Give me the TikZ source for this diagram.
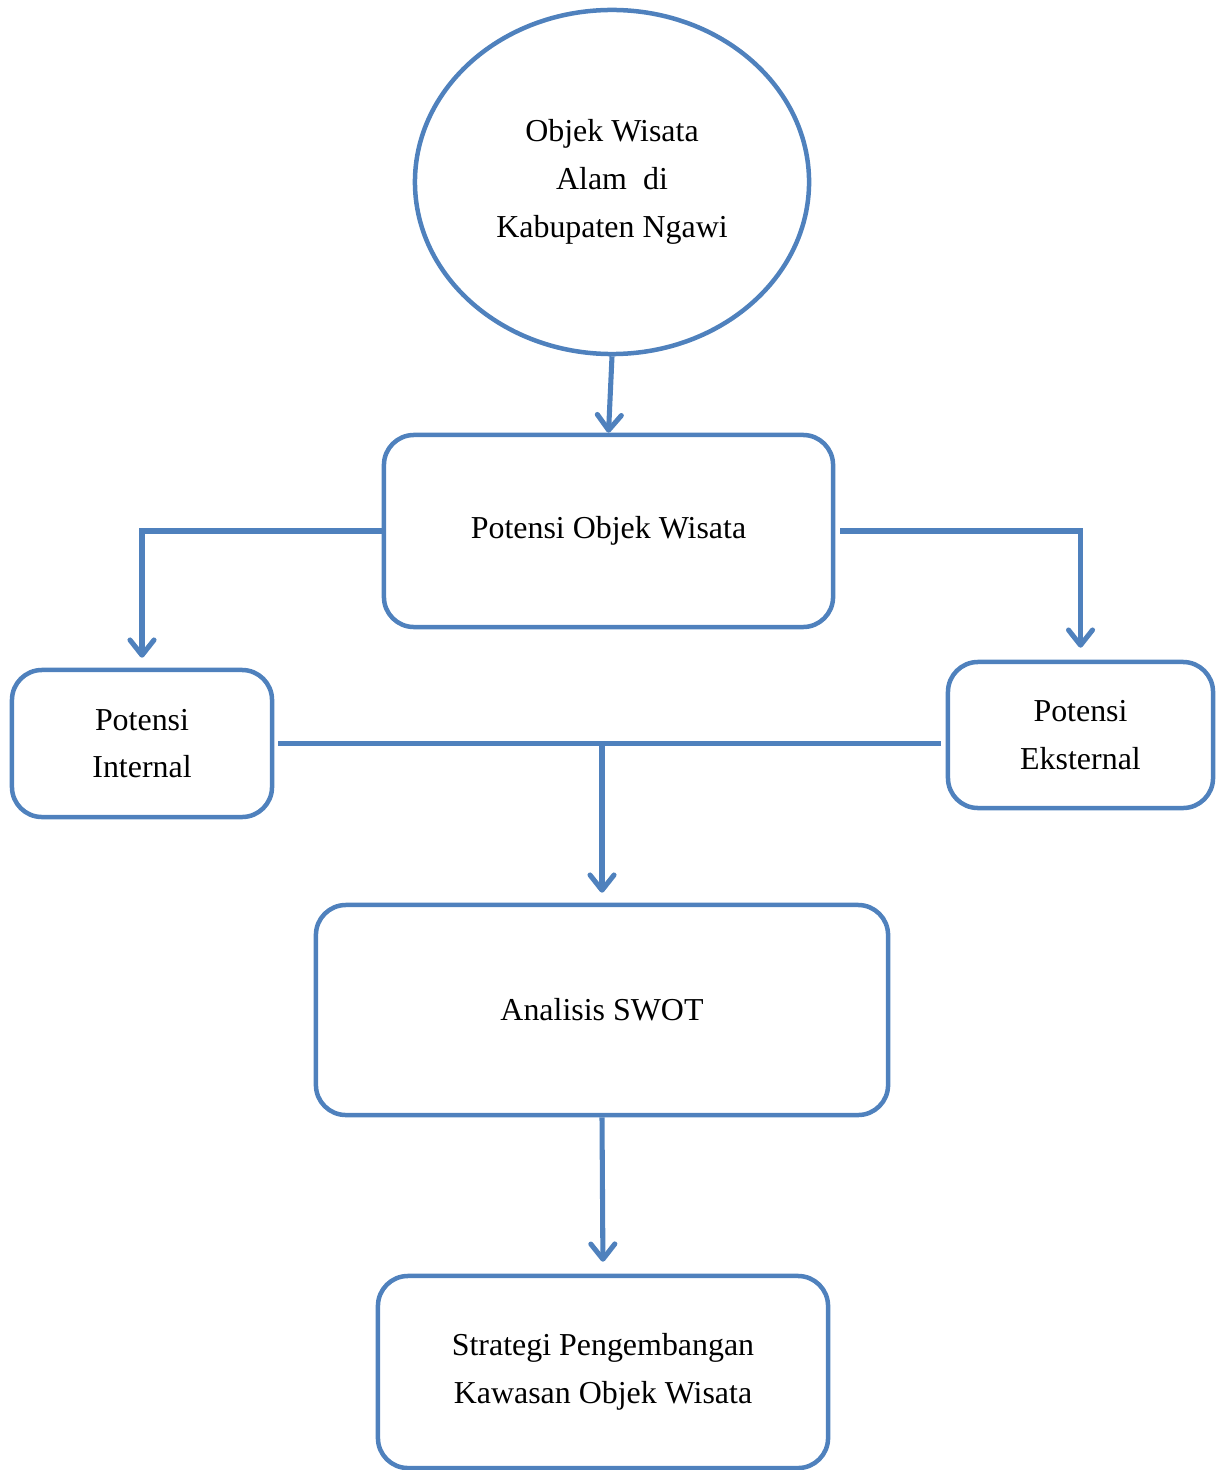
\documentclass[tikz,border=0pt]{standalone}
\usepackage{fontspec}
\setmainfont{Liberation Serif}
\usetikzlibrary{positioning, arrows.meta, calc, shapes.geometric}
\definecolor{primary}{HTML}{4F81BD}
\tikzset{
  block/.style={
    draw=primary,
    line width=3.2pt,
    rounded corners=0.75cm,
    align=center,
    font=\fontsize{22.7}{34}\selectfont,
    inner sep=0pt
  },
  start/.style={
    ellipse,
    draw=primary,
    line width=3.2pt,
    align=center,
    font=\fontsize{22.7}{34}\selectfont,
    inner sep=0pt
  },
  flow/.style={
    -{Straight Barb[round, length=3.8mm, width=6mm]},
    line width=3.6pt,
    color=primary
  },
  link/.style={
    line width=3.6pt,
    color=primary
  }
}

\begin{document}
\begin{tikzpicture}[x=0.025cm, y=-0.025cm]
  \useasboundingbox (0,0) rectangle (1216,1470);

  % Blocks
  \node[start, minimum width=9.85cm, minimum height=8.6cm] (obj) at (612,182) {Objek Wisata\\Alam~~di\\Kabupaten Ngawi};
  \node[block, minimum width=11.225cm, minimum height=4.8cm] (pow) at (608.5,531) {Potensi Objek Wisata};
  \node[block, minimum width=6.5cm, minimum height=3.675cm] (int) at (142,743.5) {Potensi\\Internal};
  \node[block, minimum width=6.625cm, minimum height=3.65cm] (eks) at (1080.5,735) {Potensi\\Eksternal};
  \node[block, minimum width=14.3cm, minimum height=5.25cm] (swot) at (602,1010) {Analisis SWOT};
  \node[block, minimum width=11.25cm, minimum height=4.8cm] (strat) at (603,1372) {Strategi Pengembangan\\Kawasan Objek Wisata};

  % Arrows
  \draw[flow] (obj.south) -- (pow.north);
  \draw[flow, shorten >=0.25cm] (pow.west) -| (int.north);
  \draw[flow, shorten <=0.12cm, shorten >=0.3cm] (pow.east) -| (eks.north);

  % Internal + eksternal into SWOT
  \draw[link, shorten <=0.1cm, shorten >=0.12cm] (int.east) -- (int.east -| eks.west);
  \coordinate (join) at (int.east -| swot.north);
  \draw[flow, shorten >=0.25cm] (join) -- (swot.north);
  \draw[flow, shorten >=0.3cm] (swot.south) -- (strat.north);

\end{tikzpicture}
\end{document}
